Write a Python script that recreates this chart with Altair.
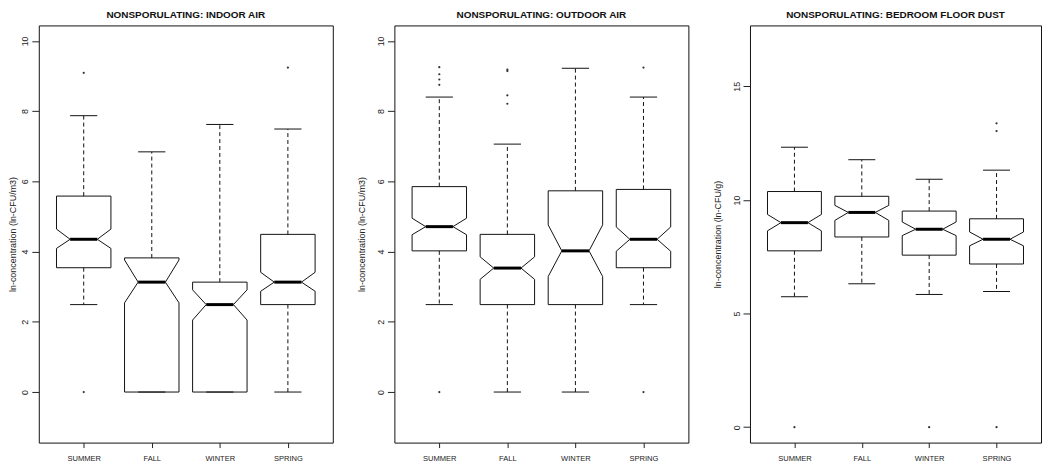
import json
import altair as alt
import pandas as pd

seasons = ["SUMMER", "FALL", "WINTER", "SPRING"]

# ---- NONSPORULATING: INDOOR AIR ----
in_lo_whisker = [2.49, 0.00, 0.00, 0.00]
in_q1 = [3.54, 0.00, 0.00, 2.49]
in_notch_lo = [4.09, 2.54, 2.05, 2.87]
in_median = [4.35, 3.13, 2.49, 3.13]
in_notch_hi = [4.64, 3.76, 2.91, 3.41]
in_q3 = [5.58, 3.82, 3.13, 4.49]
in_hi_whisker = [7.87, 6.84, 7.62, 7.49]
in_outliers = {"SUMMER": [9.09, 0.0], "SPRING": [9.24]}

# ---- NONSPORULATING: OUTDOOR AIR ----
out_lo_whisker = [2.49, 0.00, 0.00, 2.49]
out_q1 = [4.02, 2.49, 2.49, 3.54]
out_notch_lo = [4.48, 3.21, 3.29, 4.01]
out_median = [4.71, 3.53, 4.02, 4.35]
out_notch_hi = [4.95, 3.85, 4.76, 4.70]
out_q3 = [5.85, 4.49, 5.73, 5.77]
out_hi_whisker = [8.40, 7.06, 9.22, 8.40]
out_outliers = {"SUMMER": [9.25, 9.05, 8.90, 8.75, 0.0],
                "FALL": [9.18, 9.14, 8.45, 8.21],
                "SPRING": [9.24, 0.0]}

# ---- NONSPORULATING: BEDROOM FLOOR DUST ----
dust_lo_whisker = [5.74, 6.31, 5.84, 5.97]
dust_q1 = [7.76, 8.37, 7.57, 7.18]
dust_notch_lo = [8.64, 9.10, 8.43, 7.98]
dust_median = [9.00, 9.45, 8.71, 8.27]
dust_notch_hi = [9.36, 9.76, 9.03, 8.59]
dust_q3 = [10.37, 10.16, 9.51, 9.17]
dust_hi_whisker = [12.32, 11.77, 10.91, 11.31]
dust_outliers = {"SUMMER": [0.0], "WINTER": [0.0], "SPRING": [13.37, 13.03, 0.0]}

FONT = "Liberation Sans, Arial, Helvetica, sans-serif"
HALF = 0.4      # box half width (boxwex 0.8)
NOTCH = 0.2     # notch / staple half width
XDOM = [0.34, 4.66]
label_expr = json.dumps(seasons) + "[datum.value - 1]"


def panel(title, ytitle, lo_w, q1, nlo, med, nhi, q3, hi_w, outl,
          ydomain, yvalues, width, title_pad):
    poly, meds, whisk, staples, pts = [], [], [], [], []
    for i, s in enumerate(seasons):
        c = i + 1
        path = [(c - HALF, q1[i]), (c - HALF, nlo[i]), (c - NOTCH, med[i]),
                (c - HALF, nhi[i]), (c - HALF, q3[i]), (c + HALF, q3[i]),
                (c + HALF, nhi[i]), (c + NOTCH, med[i]), (c + HALF, nlo[i]),
                (c + HALF, q1[i]), (c - HALF, q1[i])]
        for k, (xx, yy) in enumerate(path):
            poly.append({"box": s, "ord": k, "x": xx, "y": yy})
        meds.append({"x": c - NOTCH, "xb": c + NOTCH, "y": med[i]})
        whisk.append({"x": c, "y": q3[i], "y2": hi_w[i]})
        whisk.append({"x": c, "y": q1[i], "y2": lo_w[i]})
        staples.append({"x": c - NOTCH, "xb": c + NOTCH, "y": hi_w[i]})
        staples.append({"x": c - NOTCH, "xb": c + NOTCH, "y": lo_w[i]})
        for v in outl.get(s, []):
            pts.append({"x": c, "y": v})

    xscale = alt.Scale(domain=XDOM, nice=False, zero=False)
    yscale = alt.Scale(domain=ydomain, nice=False, zero=False)
    xaxis = alt.Axis(values=[1, 2, 3, 4], labelExpr=label_expr, title=None,
                     grid=False, domain=False, tickSize=5, tickColor="#222",
                     labelFontSize=7.6, labelPadding=7, labelColor="#222",
                     labelFont=FONT)
    yaxis = alt.Axis(values=yvalues, title=ytitle, grid=False, domain=False,
                     tickSize=7, tickColor="#222", labelAngle=270,
                     labelAlign="center", labelBaseline="bottom",
                     labelFontSize=9, labelPadding=2, labelColor="#222",
                     labelFont=FONT, titleFont=FONT, titleFontSize=9,
                     titleFontWeight="normal", titleColor="#222",
                     titlePadding=title_pad)
    X = alt.X("x:Q", scale=xscale, axis=xaxis)
    Y = alt.Y("y:Q", scale=yscale, axis=yaxis)

    boxes = alt.Chart(pd.DataFrame(poly)).mark_line(
        color="#111", strokeWidth=1, strokeJoin="miter"
    ).encode(x=X, y=Y, detail="box:N", order="ord:Q")

    wh = alt.Chart(pd.DataFrame(whisk)).mark_rule(
        color="#111", strokeWidth=1, strokeDash=[4, 3]
    ).encode(x=X, y=Y, y2="y2:Q")

    st = alt.Chart(pd.DataFrame(staples)).mark_rule(
        color="#111", strokeWidth=1
    ).encode(x=X, x2="xb:Q", y=Y)

    md = alt.Chart(pd.DataFrame(meds)).mark_rule(
        color="#000", strokeWidth=3
    ).encode(x=X, x2="xb:Q", y=Y)

    layers = [boxes, wh, st, md]
    if pts:
        op = alt.Chart(pd.DataFrame(pts)).mark_circle(
            color="#333", size=5, opacity=1
        ).encode(x=X, y=Y)
        layers.append(op)

    return alt.layer(*layers).properties(
        width=width, height=420,
        title=alt.TitleParams(title, font=FONT, fontSize=10, fontWeight="bold",
                              color="#111", offset=5, anchor="middle"))


p1 = panel("NONSPORULATING: INDOOR AIR", "ln-concentration (ln-CFU/m3)",
           in_lo_whisker, in_q1, in_notch_lo, in_median, in_notch_hi, in_q3,
           in_hi_whisker, in_outliers, [-1.44, 10.44], [0, 2, 4, 6, 8, 10],
           296, 3)
p2 = panel("NONSPORULATING: OUTDOOR AIR", "ln-concentration (ln-CFU/m3)",
           out_lo_whisker, out_q1, out_notch_lo, out_median, out_notch_hi,
           out_q3, out_hi_whisker, out_outliers, [-1.44, 10.44],
           [0, 2, 4, 6, 8, 10], 296, 10)
p3 = panel("NONSPORULATING: BEDROOM FLOOR DUST", "ln-concentration (ln-CFU/g)",
           dust_lo_whisker, dust_q1, dust_notch_lo, dust_median, dust_notch_hi,
           dust_q3, dust_hi_whisker, dust_outliers, [-0.68, 17.68],
           [0, 5, 10, 15], 293, 10)

chart = alt.hconcat(p1, p2, p3, spacing=62, bounds="flush").properties(
    padding=0, background="white"
).configure_view(stroke="#111", strokeWidth=1)

chart.save("out.html", embed_options={"renderer": "svg", "actions": False})
